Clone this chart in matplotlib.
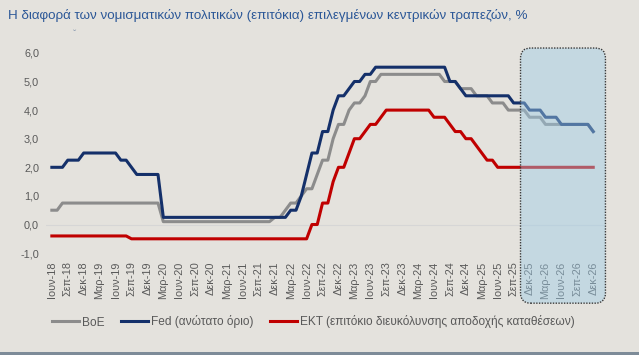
import matplotlib

matplotlib.use("Agg")
import matplotlib.pyplot as plt
from matplotlib.patches import FancyBboxPatch, Rectangle

plt.rcParams["font.family"] = ["Liberation Sans Narrow", "Liberation Sans", "DejaVu Sans"]

# monthly values, Jun 2018 .. Dec 2026
boe = (
    [0.50, 0.50, 0.75, 0.75, 0.75, 0.75, 0.75]
    + [0.75] * 12
    + [0.75, 0.75] + [0.10] * 10
    + [0.10] * 11 + [0.25]
    + [0.25, 0.50, 0.75, 0.75, 1.00, 1.25, 1.25, 1.75, 2.25, 2.25, 3.00, 3.50]
    + [3.50, 4.00, 4.25, 4.25, 4.50, 5.00, 5.00, 5.25, 5.25, 5.25, 5.25, 5.25]
    + [5.25] * 7 + [5.00, 5.00, 5.00, 4.75, 4.75]
    + [4.75, 4.50, 4.50, 4.50, 4.25, 4.25, 4.25, 4.00, 4.00, 4.00, 4.00, 3.75]
    + [3.75, 3.75] + [3.50] * 9 + [3.25]
)
fed = (
    [2.00, 2.00, 2.00, 2.25, 2.25, 2.25, 2.50]
    + [2.50] * 6 + [2.25, 2.25, 2.00, 1.75, 1.75, 1.75]
    + [1.75, 1.75] + [0.25] * 10
    + [0.25] * 12
    + [0.25, 0.25, 0.50, 0.50, 1.00, 1.75, 2.50, 2.50, 3.25, 3.25, 4.00, 4.50]
    + [4.50, 4.75, 5.00, 5.00, 5.25, 5.25] + [5.50] * 6
    + [5.50] * 8 + [5.00, 5.00, 4.75, 4.50]
    + [4.50] * 8 + [4.25, 4.25, 4.25, 4.00]
    + [4.00, 4.00, 3.75, 3.75, 3.75] + [3.50] * 6 + [3.25]
)
ecb = (
    [-0.40] * 7
    + [-0.40] * 8 + [-0.50] * 4
    + [-0.50] * 12
    + [-0.50] * 12
    + [-0.50] * 6 + [0.00, 0.00, 0.75, 0.75, 1.50, 2.00]
    + [2.00, 2.50, 3.00, 3.00, 3.25, 3.50, 3.50, 3.75, 4.00, 4.00, 4.00, 4.00]
    + [4.00] * 5 + [3.75, 3.75, 3.75, 3.50, 3.25, 3.25, 3.00]
    + [3.00, 2.75, 2.50, 2.25, 2.25] + [2.00] * 7
    + [2.00] * 12
)

tick_labels = [
    "Ιουν-18", "Σεπ-18", "Δεκ-18", "Μαρ-19", "Ιουν-19", "Σεπ-19", "Δεκ-19",
    "Μαρ-20", "Ιουν-20", "Σεπ-20", "Δεκ-20", "Μαρ-21", "Ιουν-21", "Σεπ-21",
    "Δεκ-21", "Μαρ-22", "Ιουν-22", "Σεπ-22", "Δεκ-22", "Μαρ-23", "Ιουν-23",
    "Σεπ-23", "Δεκ-23", "Μαρ-24", "Ιουν-24", "Σεπ-24", "Δεκ-24", "Μαρ-25",
    "Ιουν-25", "Σεπ-25", "Δεκ-25", "Μαρ-26", "Ιουν-26", "Σεπ-26", "Δεκ-26",
]
y_ticks = [-1, 0, 1, 2, 3, 4, 5, 6]

months = list(range(len(fed)))
bg = "#e4e2dd"
txt = "#595959"

fig = plt.figure(figsize=(6.39, 3.55), dpi=100, facecolor=bg)
ax = fig.add_axes([0.072, 0.287, 0.873, 0.564])
ax.set_facecolor(bg)

ax.axhline(0, color="#d6d6d6", lw=0.8, zorder=1)
ax.plot(months, boe, color="#8c8c8c", lw=2.2, label="BoE", zorder=2)
ax.plot(months, fed, color="#14306a", lw=2.2, label="Fed (ανώτατο όριο)", zorder=2.2)
ax.plot(months, ecb, color="#c00000", lw=2.2,
        label="EKT (επιτόκιο διευκόλυνσης αποδοχής καταθέσεων)", zorder=2.1)

ax.set_xlim(-1.1, 104)
ax.set_ylim(-1, 6)
ax.set_yticks(y_ticks)
ax.set_yticklabels([f"{v:.1f}".replace(".", ",") for v in y_ticks])
ax.set_xticks(months[::3])
ax.set_xticklabels(tick_labels, rotation=90)
ax.tick_params(axis="both", length=0, colors=txt, labelsize=7.8)
ax.tick_params(axis="y", pad=5)
ax.tick_params(axis="x", pad=6)
for s in ax.spines.values():
    s.set_visible(False)

# forecast box
px_x = 5.31
px_y = 28.6
box = FancyBboxPatch(
    (88.3, -2.75), 16.0, 8.92,
    boxstyle="round,pad=0,rounding_size=1.9",
    mutation_aspect=px_x / px_y,
    facecolor=(0.62, 0.80, 0.906, 0.45), edgecolor="#3a3a3a",
    lw=1.0, linestyle=(0, (1, 1)), clip_on=False, zorder=3,
)
ax.add_patch(box)

fig.text(8 / 639, 1 - 15 / 355,
         "Η διαφορά των νομισματικών πολιτικών (επιτόκια) επιλεγμένων κεντρικών τραπεζών, %",
         fontsize=9.6, color="#2b5797", va="center", ha="left")
fig.text(75 / 639, 1 - 35 / 355, "ˇ", fontsize=7, color="#8a9bb0", ha="center", va="center")

leg = fig.legend(loc="center", bbox_to_anchor=(0.49, 1 - 322 / 355), ncol=3,
                 frameon=False, fontsize=8.6, handlelength=2.3, handletextpad=0.2,
                 columnspacing=1.4)
for t in leg.get_texts():
    t.set_color(txt)

fig.patches.append(Rectangle((0, 0), 1, 3 / 355, transform=fig.transFigure,
                             facecolor="#7d8b98", edgecolor="none"))

fig.savefig("out.png", dpi=100, facecolor=bg)
